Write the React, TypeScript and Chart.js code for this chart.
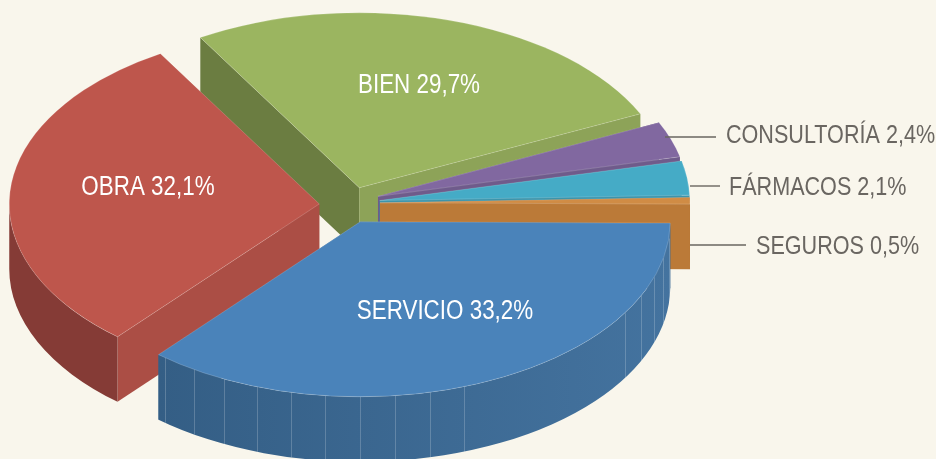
import React, { useEffect, useRef } from "react";
import { Chart, registerables } from "chart.js";

Chart.register(...registerables);

const categories = ["BIEN", "CONSULTORÍA", "FÁRMACOS", "SEGUROS", "SERVICIO", "OBRA"];
const shares = [29.7, 2.4, 2.1, 0.5, 33.2, 32.1];
const explode = [30, 35, 35, 35, 35, 26];
const nudgeX = [6, 0, 0, 0, 0, 0];
const nudgeY = [1, 0, 0, 0, 1, 3];
const topColors = ["#9BB560", "#8168A0", "#45ABC6", "#D08C45", "#4A83BA", "#BE564C"];
const startWalls = ["#6B7D41", "#5F4D78", "#35879D", "#A5692E", "#36628C", "#AB4E45"];
const endWalls = ["#8DA358", "#6F5B8B", "#3C94AB", "#BB7A38", "#36628C", "#AB4E45"];
const rimLeft = ["#6B7D41", "#5F4D78", "#35879D", "#A5692E", "#345E85", "#853B36"];
const rimRight = ["#8DA358", "#6F5B8B", "#3C94AB", "#BB7A38", "#44739F", "#853B36"];
const facetStep = [0, 0, 0, 0, 6.5, 0];
// label placement as [x, y] in page pixels
const labelAnchors = [[419, 86], [726, 136], [729, 188], [756, 247], [445, 312], [148, 188]];
const leaders = [null, [665, 716, 137], [690, 720, 186], [690, 746, 245], null, null];

const RX = 310, RY = 175, DEPTH = 65;
const TEXT_SQUEEZE = 0.83;
const DEG = Math.PI / 180;
const warp = (a: number) => {
  const main = a + 8 * DEG * Math.sin(a - 60 * DEG);
  const d = main + 12 * DEG;
  return main + 0.5 * d * Math.exp(-((d / (15 * DEG)) ** 2));
};

const pie3d = {
  id: "pie3d",
  beforeDatasetsDraw(chart: any) {
    const ctx = chart.ctx as CanvasRenderingContext2D;
    const arcs = chart.getDatasetMeta(0).data as any[];
    const ratio = RY / RX;
    const items = arcs.map((arc, i) => {
      const mid = (arc.startAngle + arc.endAngle) / 2;
      const s = warp(arc.startAngle), e = warp(arc.endAngle), m = warp(mid);
      const off = explode[i];
      return {
        i, s, e,
        x: arc.x + Math.cos(m) * off + nudgeX[i],
        y: arc.y + Math.sin(m) * off * ratio + nudgeY[i],
        sort: Math.sin(m),
      };
    });
    items.sort((a, b) => a.sort - b.sort);

    for (const it of items) {
      const { i, s, e, x, y } = it;
      const sx = x + RX * Math.cos(s), sy = y + RY * Math.sin(s);
      const ex = x + RX * Math.cos(e), ey = y + RY * Math.sin(e);
      const quad = (px: number, py: number, color: string) => {
        ctx.beginPath();
        ctx.moveTo(x, y);
        ctx.lineTo(px, py);
        ctx.lineTo(px, py + DEPTH);
        ctx.lineTo(x, y + DEPTH);
        ctx.closePath();
        ctx.fillStyle = color;
        ctx.fill();
      };
      quad(sx, sy, startWalls[i]);
      quad(ex, ey, endWalls[i]);

      const r0 = Math.max(s, 0), r1 = Math.min(e, Math.PI);
      if (r1 > r0) {
        const lx = x + RX * Math.cos(r1), rx = x + RX * Math.cos(r0);
        const g = ctx.createLinearGradient(lx, 0, rx, 0);
        g.addColorStop(0, rimLeft[i]);
        g.addColorStop(1, rimRight[i]);
        ctx.beginPath();
        ctx.ellipse(x, y, RX, RY, 0, r0, r1);
        ctx.lineTo(x + RX * Math.cos(r1), y + RY * Math.sin(r1) + DEPTH);
        ctx.ellipse(x, y + DEPTH, RX, RY, 0, r1, r0, true);
        ctx.closePath();
        ctx.fillStyle = g;
        ctx.fill();
        if (facetStep[i]) {
          const step = facetStep[i] * DEG;
          ctx.strokeStyle = "rgba(255,255,255,0.2)";
          ctx.lineWidth = 1;
          for (let t = Math.PI / 2 - 14 * step; t < r1; t += step) {
            if (t <= r0) continue;
            const c = Math.cos(t);
            if (c > 0.4 && c < 0.83) continue;
            const fx = Math.round(x + RX * c) + 0.5;
            const fy = y + RY * Math.sin(t);
            ctx.beginPath();
            ctx.moveTo(fx, fy);
            ctx.lineTo(fx, fy + DEPTH);
            ctx.stroke();
          }
        }
      }

      ctx.beginPath();
      ctx.moveTo(x, y);
      ctx.ellipse(x, y, RX, RY, 0, s, e);
      ctx.closePath();
      ctx.fillStyle = topColors[i];
      ctx.fill();
      ctx.strokeStyle = "rgba(255,255,255,0.18)";
      ctx.lineWidth = 1;
      ctx.stroke();
    }
    return false;
  },
  afterDraw(chart: any) {
    const ctx = chart.ctx as CanvasRenderingContext2D;
    ctx.save();
    ctx.textBaseline = "middle";
    categories.forEach((name, i) => {
      const text = `${name} ${shares[i].toFixed(1).replace(".", ",")}%`;
      const [ax, ay] = labelAnchors[i];
      const leader = leaders[i];
      if (leader) {
        ctx.strokeStyle = "#6A6661";
        ctx.lineWidth = 1.4;
        ctx.beginPath();
        ctx.moveTo(leader[0], leader[2]);
        ctx.lineTo(leader[1], leader[2]);
        ctx.stroke();
        ctx.textAlign = "left";
        ctx.fillStyle = "#6A6661";
        ctx.font = '26px "Liberation Sans", sans-serif';
      } else {
        ctx.textAlign = "center";
        ctx.fillStyle = "#FFFFFF";
        ctx.font = '27px "Liberation Sans", sans-serif';
      }
      ctx.save();
      ctx.translate(ax, ay);
      ctx.scale(TEXT_SQUEEZE, 1);
      ctx.fillText(text, 0, 0);
      ctx.restore();
    });
    ctx.restore();
  },
};

export default function App() {
  const ref = useRef<HTMLCanvasElement>(null);
  useEffect(() => {
    document.body.style.margin = "0";
    document.body.style.background = "#F9F6EC";
    const chart = new Chart(ref.current!, {
      type: "pie",
      data: {
        labels: categories,
        datasets: [{ data: shares, backgroundColor: topColors, borderWidth: 0 }],
      },
      options: {
        responsive: false,
        animation: false,
        rotation: -31,
        layout: { padding: { right: 246, bottom: 53 } },
        plugins: { legend: { display: false }, tooltip: { enabled: false } },
      },
      plugins: [pie3d],
    } as any);
    return () => chart.destroy();
  }, []);
  return <canvas ref={ref} width={936} height={459} style={{ display: "block", background: "#F9F6EC" }} />;
}
